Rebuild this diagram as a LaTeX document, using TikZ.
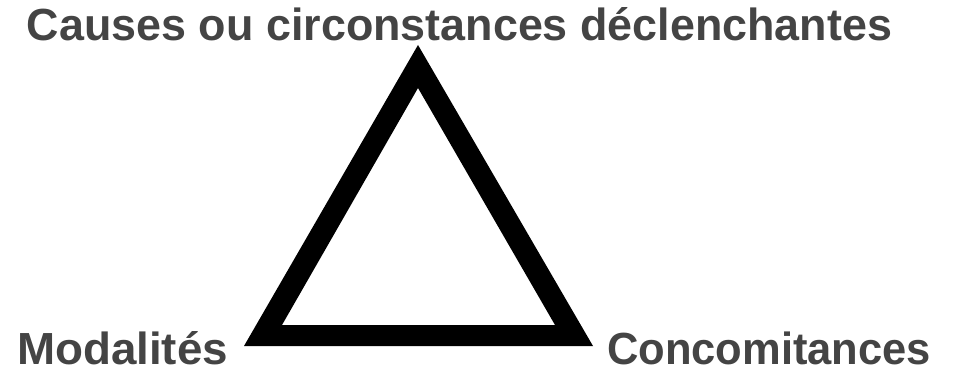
\documentclass[tikz,border=0pt]{standalone}
\usepackage{fontspec}
\setmainfont{Liberation Sans}
\usepackage{graphicx}
\definecolor{labelgray}{HTML}{444444}
\begin{document}
\begin{tikzpicture}[x=1pt,y=-1pt,
  lbl/.style={anchor=base west,inner sep=0pt,outer sep=0pt,text=labelgray,font=\fontsize{45}{45}\selectfont\bfseries}]
\useasboundingbox (0,0) rectangle (953,374);
\fill[black,even odd rule] (418,45) -- (244,346) -- (593,346) -- cycle
  (418,88) -- (282,325) -- (555,325) -- cycle;
\node[lbl] (top) at (27,41) {\resizebox{865pt}{\height}{Causes ou circonstances déclenchantes}};
\node[lbl] (left) at (17,364) {\resizebox{211pt}{\height}{Modalités}};
\node[lbl] (right) at (607,364) {\resizebox{324pt}{\height}{Concomitances}};
\end{tikzpicture}
\end{document}
